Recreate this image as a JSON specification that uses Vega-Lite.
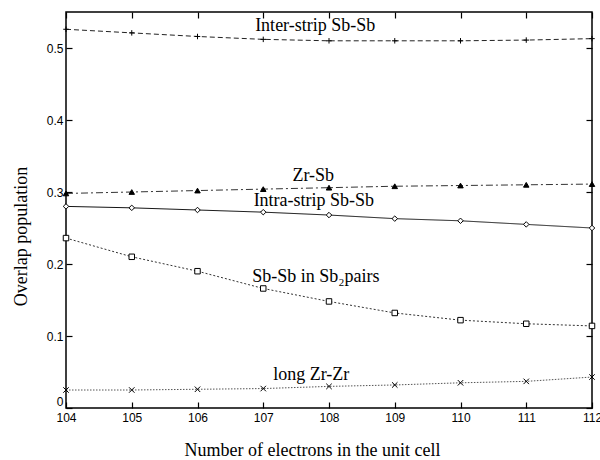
{
  "$schema": "https://vega.github.io/schema/vega-lite/v6.json",
  "width": 526,
  "height": 396,
  "autosize": {"type": "none"},
  "padding": {"left": 66, "top": 12, "right": 8, "bottom": 52},
  "background": "white",
  "config": {
    "view": {"stroke": "black", "strokeWidth": 1.5},
    "axis": {
      "domain": false,
      "grid": false,
      "ticks": true,
      "tickColor": "black",
      "tickSize": -6,
      "tickWidth": 1.2,
      "labelFlush": false,
      "labelFont": "Liberation Sans",
      "labelFontSize": 12,
      "labelColor": "black",
      "titleFont": "Liberation Serif",
      "titleFontSize": 18,
      "titleFontWeight": "normal",
      "titleColor": "black"
    }
  },
  "datasets": {
    "series": [
      {"s": "inter", "n": 104, "v": 0.526}, {"s": "inter", "n": 105, "v": 0.521}, {"s": "inter", "n": 106, "v": 0.516},
      {"s": "inter", "n": 107, "v": 0.512}, {"s": "inter", "n": 108, "v": 0.510}, {"s": "inter", "n": 109, "v": 0.510},
      {"s": "inter", "n": 110, "v": 0.510}, {"s": "inter", "n": 111, "v": 0.511}, {"s": "inter", "n": 112, "v": 0.513},
      {"s": "zrsb", "n": 104, "v": 0.298}, {"s": "zrsb", "n": 105, "v": 0.300}, {"s": "zrsb", "n": 106, "v": 0.302},
      {"s": "zrsb", "n": 107, "v": 0.304}, {"s": "zrsb", "n": 108, "v": 0.306}, {"s": "zrsb", "n": 109, "v": 0.308},
      {"s": "zrsb", "n": 110, "v": 0.309}, {"s": "zrsb", "n": 111, "v": 0.310}, {"s": "zrsb", "n": 112, "v": 0.311},
      {"s": "intra", "n": 104, "v": 0.280}, {"s": "intra", "n": 105, "v": 0.278}, {"s": "intra", "n": 106, "v": 0.275},
      {"s": "intra", "n": 107, "v": 0.272}, {"s": "intra", "n": 108, "v": 0.268}, {"s": "intra", "n": 109, "v": 0.263},
      {"s": "intra", "n": 110, "v": 0.260}, {"s": "intra", "n": 111, "v": 0.255}, {"s": "intra", "n": 112, "v": 0.250},
      {"s": "pairs", "n": 104, "v": 0.236}, {"s": "pairs", "n": 105, "v": 0.210}, {"s": "pairs", "n": 106, "v": 0.190},
      {"s": "pairs", "n": 107, "v": 0.166}, {"s": "pairs", "n": 108, "v": 0.148}, {"s": "pairs", "n": 109, "v": 0.132},
      {"s": "pairs", "n": 110, "v": 0.122}, {"s": "pairs", "n": 111, "v": 0.117}, {"s": "pairs", "n": 112, "v": 0.114},
      {"s": "zrzr", "n": 104, "v": 0.025}, {"s": "zrzr", "n": 105, "v": 0.025}, {"s": "zrzr", "n": 106, "v": 0.026},
      {"s": "zrzr", "n": 107, "v": 0.027}, {"s": "zrzr", "n": 108, "v": 0.030}, {"s": "zrzr", "n": 109, "v": 0.032},
      {"s": "zrzr", "n": 110, "v": 0.035}, {"s": "zrzr", "n": 111, "v": 0.037}, {"s": "zrzr", "n": 112, "v": 0.043}
    ],
    "labels": [
      {"t": "Inter-strip Sb-Sb", "n": 107.79, "v": 0.530},
      {"t": "Zr-Sb", "n": 107.76, "v": 0.322},
      {"t": "Intra-strip Sb-Sb", "n": 107.77, "v": 0.287},
      {"t": "Sb-Sb in Sb₂pairs", "n": 107.8, "v": 0.182},
      {"t": "long Zr-Zr", "n": 107.73, "v": 0.046}
    ]
  },
  "resolve": {"axis": {"x": "independent", "y": "independent"}},
  "layer": [
    {
      "data": {"name": "series"},
      "mark": {"type": "line", "strokeWidth": 1},
      "encoding": {
        "x": {"field": "n", "type": "quantitative", "scale": {"domain": [104, 112], "nice": false, "zero": false},
              "axis": {"values": [104,105,106,107,108,109,110,111,112], "format": "d", "labelPadding": 10, "title": "Number of electrons in the unit cell", "titlePadding": 18, "titleX": 246}},
        "y": {"field": "v", "type": "quantitative", "scale": {"domain": [0, 0.55], "nice": false},
              "axis": {"values": [0,0.1,0.2,0.3,0.4,0.5], "format": "~g", "labelPadding": 9, "labelFlush": true, "title": "Overlap population", "titlePadding": 16, "titleY": 224}},
        "detail": {"field": "s"},
        "color": {"field": "s", "type": "nominal", "legend": null,
                  "scale": {"domain": ["inter","zrsb","intra","pairs","zrzr"], "range": ["#222","#333","#111","#333","#555"]}},
        "strokeDash": {"field": "s", "type": "nominal", "legend": null,
                  "scale": {"domain": ["inter","zrsb","intra","pairs","zrzr"], "range": [[5,3],[7,3,2,3],[1,0],[2,2],[1.5,1.5]]}}
      }
    },
    {
      "data": {"name": "series"},
      "mark": {"type": "point", "size": 30, "strokeWidth": 1, "opacity": 1},
      "encoding": {
        "x": {"field": "n", "type": "quantitative", "axis": null},
        "y": {"field": "v", "type": "quantitative", "axis": null},
        "shape": {"field": "s", "type": "nominal", "legend": null,
                  "scale": {"domain": ["inter","zrsb","intra","pairs","zrzr"],
                            "range": ["M-1,0L1,0M0,-1L0,1", "triangle-up", "diamond", "square", "M-1,-1L1,1M-1,1L1,-1"]}},
        "fill": {"field": "s", "type": "nominal", "legend": null,
                 "scale": {"domain": ["inter","zrsb","intra","pairs","zrzr"], "range": ["white","black","white","white","white"]}},
        "stroke": {"value": "black"}
      }
    },
    {
      "data": {"name": "labels"},
      "mark": {"type": "text", "font": "Liberation Serif", "fontSize": 18, "color": "black", "baseline": "middle", "align": "center"},
      "encoding": {
        "x": {"field": "n", "type": "quantitative", "axis": null},
        "y": {"field": "v", "type": "quantitative", "axis": null},
        "text": {"field": "t"}
      }
    },
    {
      "data": {"values": [{"n": 104, "v": 0}]},
      "mark": {"type": "point", "opacity": 0},
      "encoding": {
        "x": {"field": "n", "type": "quantitative",
              "axis": {"orient": "top", "values": [104,105,106,107,108,109,110,111,112], "labels": false, "title": null}},
        "y": {"field": "v", "type": "quantitative",
              "axis": {"orient": "right", "values": [0,0.1,0.2,0.3,0.4,0.5], "labels": false, "title": null}}
      }
    }
  ]
}
